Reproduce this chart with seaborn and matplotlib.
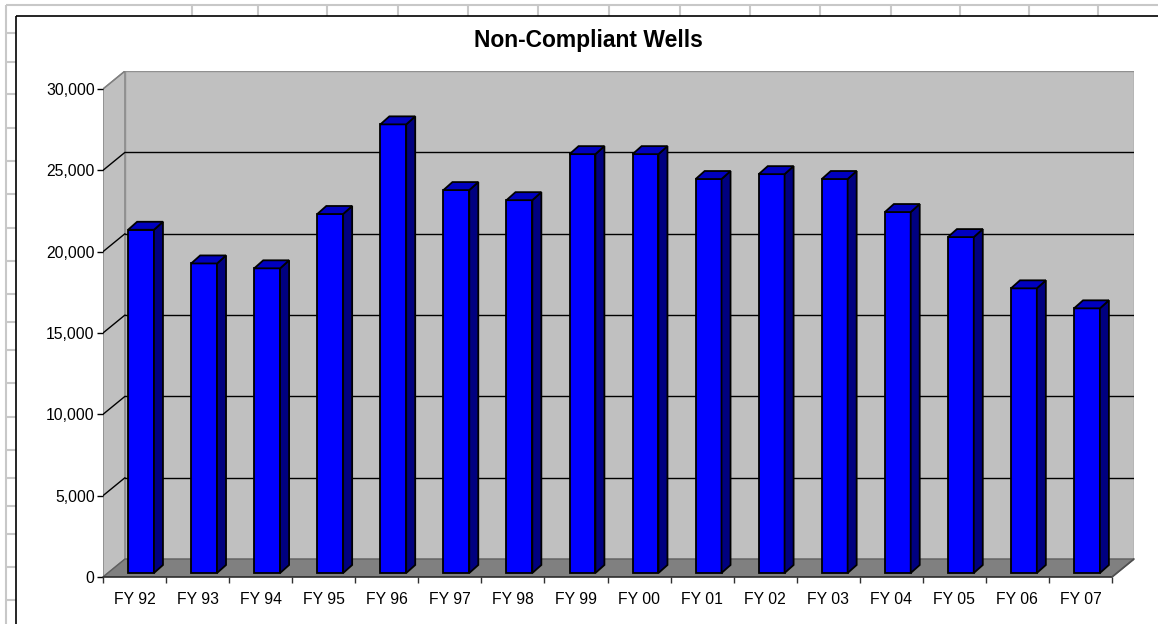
import matplotlib
matplotlib.use("Agg")
import matplotlib.pyplot as plt
from matplotlib.patches import Polygon
from matplotlib.lines import Line2D
import seaborn as sns
import numpy as np

# values
fiscal_years = ["FY 92", "FY 93", "FY 94", "FY 95", "FY 96", "FY 97", "FY 98", "FY 99",
                "FY 00", "FY 01", "FY 02", "FY 03", "FY 04", "FY 05", "FY 06", "FY 07"]
wells = [21100, 19030, 18730, 22070, 27580, 23540, 22920, 25750,
         25750, 24220, 24520, 24220, 22190, 20650, 17500, 16270]
y_ticks = [0, 5000, 10000, 15000, 20000, 25000, 30000]

W, H = 1158, 624
sns.set_theme(style="white")
plt.rcParams['font.family'] = ['Liberation Sans', 'DejaVu Sans']

fig = plt.figure(figsize=(W / 100, H / 100), dpi=100)
fig.patch.set_facecolor("white")


def fig_line(x0, y0, x1, y1, color, lw):
    fig.add_artist(Line2D([x0 / W, x1 / W], [1 - y0 / H, 1 - y1 / H],
                          transform=fig.transFigure, color=color, lw=lw,
                          solid_capstyle="butt"))


# spreadsheet cells behind the chart object
cell_col = "#c8c8c8"
fig_line(6, 5, W, 5, cell_col, 1.5)
fig_line(6, 5, 6, H, cell_col, 1.5)
for cx in [192, 258, 327, 398, 468, 538, 609, 680, 750, 820, 891, 960, 1029, 1098]:
    fig_line(cx, 5, cx, 16, cell_col, 1.5)
for cy in [33, 62, 94, 128, 161, 194, 228, 261, 294, 322, 350, 383, 417, 450,
           478, 506, 534, 567, 600]:
    fig_line(6, cy, 16, cy, cell_col, 1.5)
# chart area border
fig_line(16, 16, W, 16, "black", 1.2)
fig_line(16, 16, 16, H, "black", 1.2)

fig.text(588 / W, 1 - 41 / H, "Non-Compliant Wells", ha="center", va="center",
         fontsize=16.5, fontweight="bold", color="black")

# front plane of the plot: x 103..1134 px, y 577..71 px
ax = fig.add_axes([103 / W, (H - 577) / H, (1134 - 103) / W, (577 - 71) / H])
ax.patch.set_visible(False)

px_x = (1112 - 103) / len(fiscal_years)      # px per category
px_y = (577 - 89) / 30000                     # px per unit
DX, DY = 22 / px_x, 18 / px_y                 # wall depth in data units

sns.barplot(x=fiscal_years, y=wells, color="#0000ff", saturation=1, width=0.41,
            edgecolor="black", linewidth=1.3, ax=ax, zorder=3)

ax.set_xlim(-0.5, -0.5 + (1134 - 103) / px_x)
ax.set_ylim(0, (577 - 71) / px_y)
for s in ax.spines.values():
    s.set_visible(False)

n = len(fiscal_years)
x_left, x_right = -0.5, n - 0.5
top = y_ticks[-1]

# walls and floor
side = Polygon([(x_left, 0), (x_left + DX, DY), (x_left + DX, top + DY), (x_left, top)],
               closed=True, facecolor="#c0c0c0", edgecolor="#808080", lw=1, zorder=0)
back = Polygon([(x_left + DX, DY), (x_right + DX, DY), (x_right + DX, top + DY),
                (x_left + DX, top + DY)],
               closed=True, facecolor="#c0c0c0", edgecolor="#909090", lw=1, zorder=0)
floor = Polygon([(x_left, 0), (x_right, 0), (x_right + DX, DY), (x_left + DX, DY)],
                closed=True, facecolor="#808080", edgecolor="#606060", lw=1, zorder=1)
for p in (side, back, floor):
    ax.add_patch(p)
ax.plot([x_left, x_right], [0, 0], color="#303030", lw=1.2, zorder=2, clip_on=False)
ax.plot([x_right, x_right + DX], [0, DY], color="#505050", lw=1.2, zorder=2, clip_on=False)

for v in y_ticks[1:-1]:
    ax.plot([x_left + DX, x_right + DX], [v + DY, v + DY], color="black", lw=1, zorder=0.5)
    ax.plot([x_left, x_left + DX], [v, v + DY], color="black", lw=1, zorder=0.5)
ax.plot([x_left, x_left + DX], [top, top + DY], color="#808080", lw=1, zorder=0.5)

# give each column its depth: shift the front face, add side and top faces
off_x, off_y = 6.5 / px_x, 4 / px_y
bdx, bdy = 9 / px_x, 8 / px_y
for patch, v in zip(ax.patches[:n], wells):
    patch.set_x(patch.get_x() + off_x)
    patch.set_y(off_y)
    x0 = patch.get_x()
    x1 = x0 + patch.get_width()
    h = v + off_y
    ax.add_patch(Polygon([(x1, off_y), (x1 + bdx, off_y + bdy), (x1 + bdx, h + bdy), (x1, h)],
                         closed=True, facecolor="#000080", edgecolor="black", lw=1.3, zorder=3))
    ax.add_patch(Polygon([(x0, h), (x1, h), (x1 + bdx, h + bdy), (x0 + bdx, h + bdy)],
                         closed=True, facecolor="#0000c0", edgecolor="black", lw=1.3, zorder=3))

ax.set_yticks(y_ticks)
ax.set_yticklabels([f"{v:,}" for v in y_ticks])
ax.set_xticks(np.arange(n))
ax.set_xticklabels(fiscal_years)
ax.set_xticks(np.arange(-0.5, n, 1), minor=True)
ax.tick_params(axis="y", which="major", left=True, length=4.5, width=1, color="black",
               pad=1.5, labelsize=11.3, labelcolor="black")
ax.tick_params(axis="x", which="major", bottom=False, length=0, pad=11, labelsize=11.3,
               labelcolor="black")
ax.tick_params(axis="x", which="minor", bottom=True, length=4.5, width=1, color="#303030")
ax.set_xlabel("")
ax.set_ylabel("")

fig.savefig("out.png", dpi=100, facecolor="white")
